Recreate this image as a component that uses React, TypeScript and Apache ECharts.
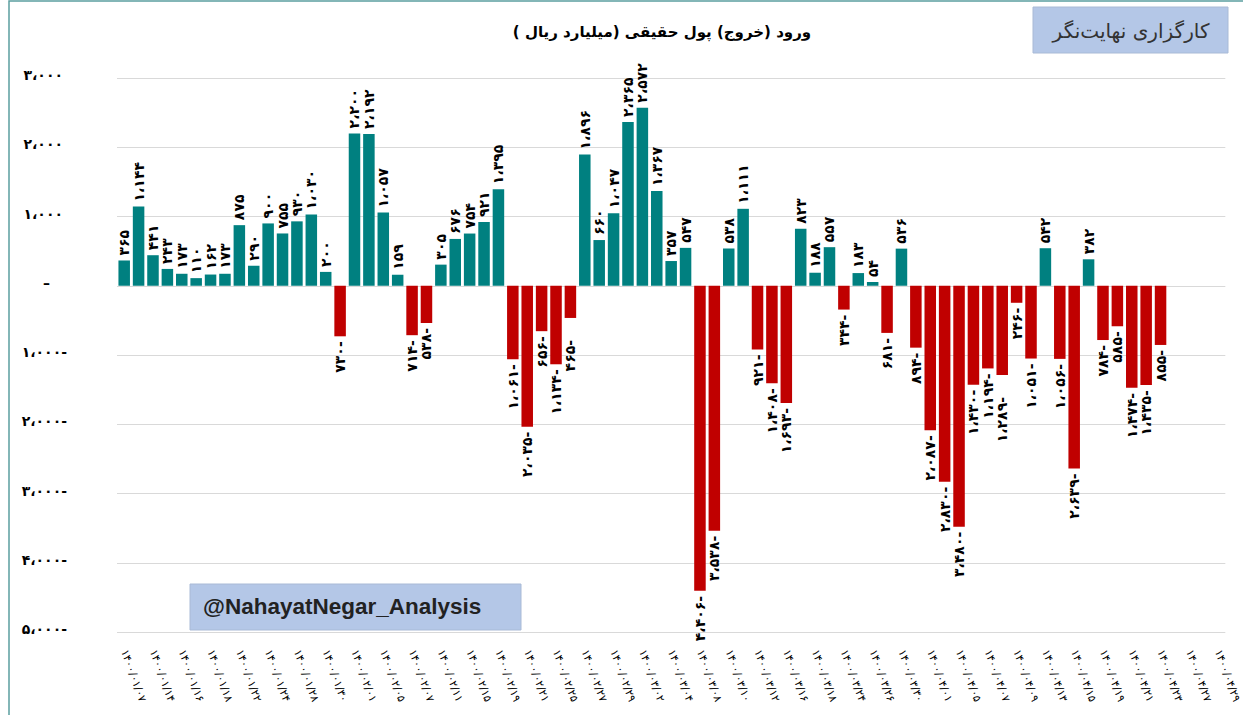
import React, { useEffect, useRef } from 'react';
import * as echarts from 'echarts';

const categories: string[] = [
  '1400/01/07', '1400/01/08', '1400/01/14', '1400/01/15', '1400/01/16', '1400/01/17', '1400/01/18', '1400/01/21',
  '1400/01/22', '1400/01/23', '1400/01/24', '1400/01/25', '1400/01/28', '1400/01/29', '1400/01/30', '1400/01/31',
  '1400/02/01', '1400/02/04', '1400/02/05', '1400/02/06', '1400/02/07', '1400/02/08', '1400/02/11', '1400/02/12',
  '1400/02/15', '1400/02/18', '1400/02/19', '1400/02/20', '1400/02/21', '1400/02/22', '1400/02/25', '1400/02/26',
  '1400/02/27', '1400/02/28', '1400/02/29', '1400/03/01', '1400/03/02', '1400/03/03', '1400/03/04', '1400/03/05',
  '1400/03/08', '1400/03/09', '1400/03/10', '1400/03/11', '1400/03/12', '1400/03/15', '1400/03/16', '1400/03/17',
  '1400/03/18', '1400/03/22', '1400/03/24', '1400/03/25', '1400/03/26', '1400/03/29', '1400/03/30', '1400/03/31',
  '1400/04/01', '1400/04/02', '1400/04/05', '1400/04/06', '1400/04/07', '1400/04/08', '1400/04/09', '1400/04/12',
  '1400/04/13', '1400/04/14', '1400/04/15', '1400/04/16', '1400/04/19', '1400/04/20', '1400/04/21', '1400/04/22',
  '1400/04/23', '1400/04/26', '1400/04/27', '1400/04/28', '1400/04/29',
];

const values: number[] = [
  365, 1144, 441, 243, 173, 110, 162, 173, 875, 290, 900, 755, 930, 1030, 200, -730,
  2200, 2192, 1057, 159, -714, -538, 305, 676, 754, 921, 1395, -1061, -2035, -656, -1134, -465,
  1896, 660, 1047, 2365, 2572, 1367, 357, 547, -4406, -3538, 538, 1111, -921, -1408, -1693,
  823, 188, 557, -344, 183, 54, -681, 536, -894, -2087, -2830, -3480, -1430, -1194, -1289, -246,
  -1051, 542, -1056, -2639, 382, -784, -585, -1474, -1435, -855,
];

// data labels that the original pushed further away from their bar
const pushedLabels: number[] = [31, 61];

const yMin = -5000;
const yMax = 3000;
const yStep = 1000;

const titleText = 'ورود (خروج) پول حقیقی (میلیارد ریال )';
const brandText = 'کارگزاری نهایت‌نگر';
const handleText = '@NahayatNegar_Analysis';

const FA = '۰۱۲۳۴۵۶۷۸۹';
const faDigits = (s: string) => s.replace(/\d/g, (d) => FA[+d]);
const faNum = (n: number) => {
  const s = faDigits(Math.abs(n).toLocaleString('en-US').replace(/,/g, '،'));
  return n < 0 ? s + '-' : s;
};

const POS = '#008080';
const NEG = '#c00000';
const FONT = 'DejaVu Sans';

export default function App() {
  const ref = useRef<HTMLDivElement>(null);

  useEffect(() => {
    if (!ref.current) return;
    const chart = echarts.init(ref.current, null, { renderer: 'svg' });
    const yRich = (pr: number) => ({
      fontSize: 14,
      fontWeight: 'bold',
      fontFamily: FONT,
      color: '#000',
      padding: [0, pr, 6, 0],
    });
    chart.setOption({
      animation: false,
      backgroundColor: '#ffffff',
      grid: { left: 117, right: 14, top: 78, bottom: 83, containLabel: false },
      xAxis: {
        type: 'category',
        data: categories,
        axisLine: { show: false },
        axisTick: { show: false },
        axisLabel: {
          interval: 1,
          rotate: -70,
          margin: 18,
          fontSize: 11,
          fontFamily: FONT,
          color: '#000',
          formatter: (v: string) => faDigits(v),
        },
      },
      yAxis: {
        type: 'value',
        min: yMin,
        max: yMax,
        interval: yStep,
        axisLine: { show: false },
        axisTick: { show: false },
        splitLine: { lineStyle: { color: '#d9d9d9', width: 1 } },
        axisLabel: {
          margin: 50,
          align: 'right',
          formatter: (v: number) =>
            v === 0 ? '{z|–}' : v > 0 ? '{p|' + faNum(v) + '}' : '{n|' + faNum(v) + '}',
          rich: { p: yRich(4), n: yRich(0), z: yRich(17) },
        },
      },
      series: [
        {
          type: 'bar',
          barCategoryGap: '20%',
          data: values.map((v, i) => ({
            value: v,
            itemStyle: { color: v >= 0 ? POS : NEG },
            label: {
              position: v >= 0 ? 'top' : 'bottom',
              align: v >= 0 ? 'left' : 'right',
              distance: pushedLabels.includes(i) ? 22 : 5,
            },
          })),
          label: {
            show: true,
            rotate: 90,
            verticalAlign: 'middle',
            fontSize: 14,
            fontWeight: 'bold',
            fontFamily: FONT,
            color: '#000',
            formatter: (p: any) => faNum(p.value),
          },
        },
      ],
      graphic: [
        {
          type: 'rect',
          silent: true,
          shape: { x: 9, y: 1, width: 1400, height: 900 },
          style: { fill: 'none', stroke: '#5b9ea0', lineWidth: 1.5 },
        },
        {
          type: 'text',
          x: 662,
          y: 32,
          style: {
            text: '\u200F' + titleText + '\u200F',
            fontSize: 15,
            fontWeight: 'bold',
            fontFamily: FONT,
            fill: '#000',
            align: 'center',
            verticalAlign: 'middle',
          },
        },
        {
          type: 'rect',
          shape: { x: 1033, y: 7, width: 195, height: 46 },
          style: { fill: '#b4c7e7', stroke: '#a9bad6', lineWidth: 1 },
        },
        {
          type: 'text',
          x: 1131,
          y: 31,
          style: {
            text: '\u200F' + brandText + '\u200F',
            fontSize: 20,
            fontFamily: FONT,
            fill: '#333',
            align: 'center',
            verticalAlign: 'middle',
          },
        },
        {
          type: 'rect',
          shape: { x: 190, y: 584, width: 331, height: 46 },
          style: { fill: '#b4c7e7', stroke: '#a9bad6', lineWidth: 1 },
        },
        {
          type: 'text',
          x: 203,
          y: 606,
          style: {
            text: handleText,
            fontSize: 22.5,
            fontWeight: 'bold',
            fontFamily: 'Liberation Sans',
            fill: '#222',
            align: 'left',
            verticalAlign: 'middle',
          },
        },
      ],
    });
    return () => chart.dispose();
  }, []);

  return (
    <div
      ref={ref}
      style={{ position: 'fixed', left: 0, top: 0, width: 1243, height: 715, background: '#fff' }}
    />
  );
}
